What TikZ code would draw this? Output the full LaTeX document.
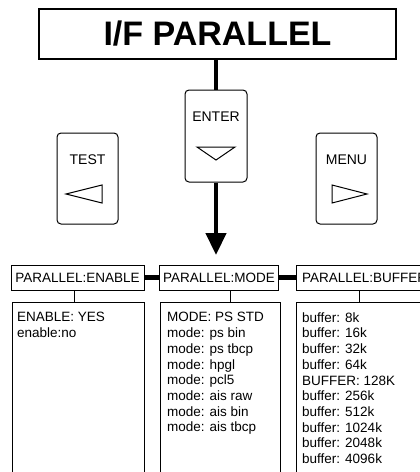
\documentclass[tikz,border=0pt]{standalone}
\usepackage{fontspec}
\setmainfont{Liberation Sans}
\usetikzlibrary{arrows.meta}
\begin{document}
\begin{tikzpicture}[x=1pt,y=-1pt,
  box/.style={draw,line width=1pt,rectangle,inner sep=0pt},
  btn/.style={draw,line width=1pt,rectangle,rounded corners=4pt,inner sep=0pt,minimum width=61pt,minimum height=91pt},
  hdr/.style={box,minimum height=25pt,font=\fontsize{13.5}{15.7}\selectfont},
  body/.style={box,anchor=north west},
  btxt/.style={anchor=north west,inner sep=0pt,align=left,font=\fontsize{13.5}{15.7}\selectfont},
  lbl/.style={inner sep=0pt,font=\fontsize{14}{16}\selectfont},
  thick link/.style={line width=4.5pt},
  thin link/.style={line width=1pt},
  tri/.style={line width=1pt}
]
\clip (0,0) rectangle (420,472);
% title
\node[box,line width=1.2pt,minimum width=357pt,minimum height=50pt,font=\fontsize{34}{40}\selectfont\bfseries] (title) at (217.5,34) {I/F PARALLEL};
% buttons
\node[btn,minimum width=62pt,minimum height=92pt] (enter) at (216,136) {};
\node[btn] (test) at (87.5,178.5) {};
\node[btn] (menu) at (346.5,178.5) {};
\node[lbl] (enterlbl) at (216,117) {ENTER};
\node[lbl] (testlbl) at (87.5,160) {TEST};
\node[lbl] (menulbl) at (346.5,160) {MENU};
\draw[tri] ([shift={(-19,11)}]enter.center) -- ([shift={(19,11)}]enter.center) -- ([shift={(0,24)}]enter.center) -- cycle;
\draw[tri] ([shift={(-21.5,15.5)}]test.center) -- ([shift={(14.5,6.5)}]test.center) -- ([shift={(14.5,24.5)}]test.center) -- cycle;
\draw[tri] ([shift={(-14.5,6.5)}]menu.center) -- ([shift={(-14.5,24.5)}]menu.center) -- ([shift={(20.5,15.5)}]menu.center) -- cycle;
% connectors title -> enter -> menus
\draw[thick link] (title.south -| enter.north) -- (enter.north);
\coordinate (tip) at (216,255);
\draw[thick link,-{Triangle[width=20pt,length=22pt]}] (enter.south) -- (tip);
% headers
\node[hdr,minimum width=133pt] (h1) at (77.5,277.5) {PARALLEL:ENABLE};
\node[hdr,minimum width=119pt] (h2) at (219,277.5) {PARALLEL:MODE};
\node[hdr,minimum width=134pt,text width=122pt,align=left] (h3) at (363,277.5) {PARALLEL:BUFFER};
\draw[thick link] (h1.east) -- (h2.west);
\draw[thick link] (h2.east) -- (h3.west);
% bodies
\node[body,minimum width=132pt,minimum height=180pt] (b1) at (12,302) {};
\node[body,minimum width=120pt,minimum height=180pt] (b2) at (160,302) {};
\node[body,minimum width=134pt,minimum height=180pt] (b3) at (296,302) {};
\draw[thin link] ([xshift=-3.5pt]h1.south) -- ([xshift=-3.5pt]h1.south |- b1.north);
\draw[thin link] ([xshift=11pt]h2.south) -- ([xshift=11pt]h2.south |- b2.north);
\draw[thin link] ([xshift=-4pt]h3.south) -- ([xshift=-4pt]h3.south |- b3.north);
% body texts
\node[btxt] (t1) at (17,312.3) {ENABLE: YES\\enable:no};
\node[btxt] (t2) at (167,312.3) {MODE: PS STD\\mode: ps bin\\mode: ps tbcp\\mode: hpgl\\mode: pcl5\\mode: ais raw\\mode: ais bin\\mode: ais tbcp};
\node[btxt] (t3) at (302,312.3) {buffer: 8k\\buffer: 16k\\buffer: 32k\\buffer: 64k\\BUFFER: 128K\\buffer: 256k\\buffer: 512k\\buffer: 1024k\\buffer: 2048k\\buffer: 4096k};
\end{tikzpicture}
\end{document}
